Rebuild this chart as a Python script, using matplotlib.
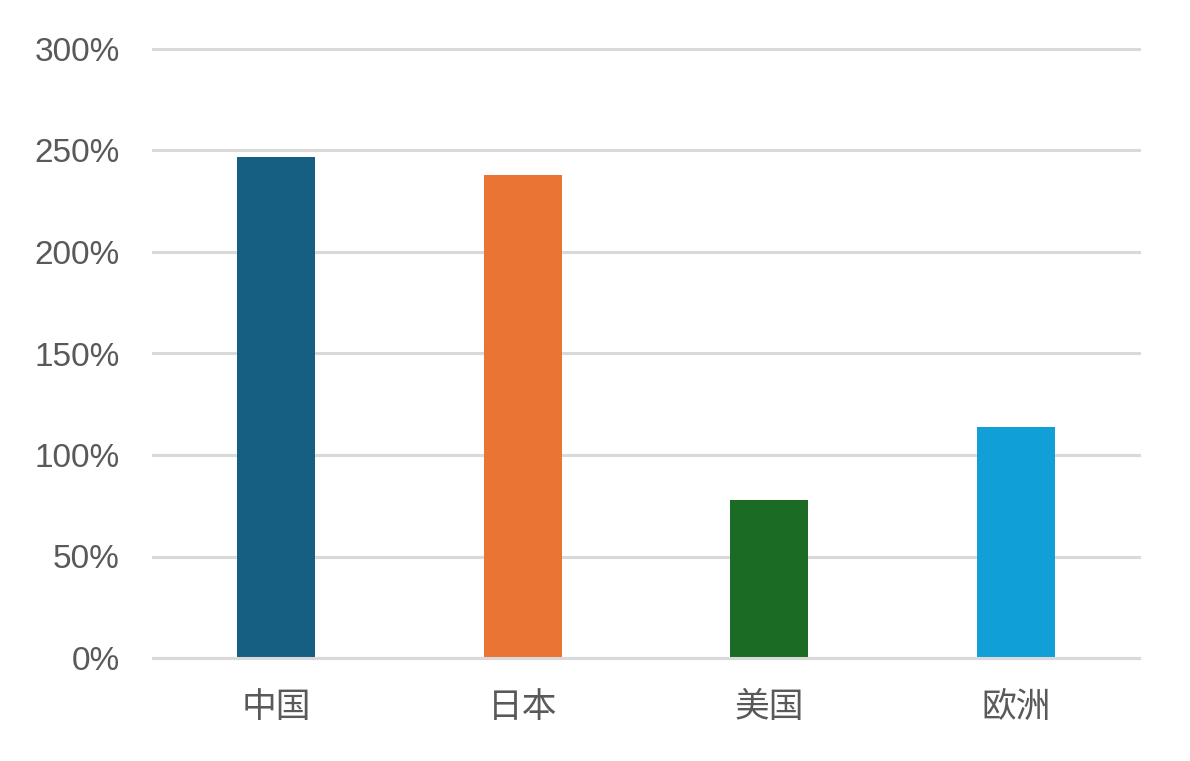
import matplotlib
matplotlib.use("Agg")
import matplotlib.pyplot as plt
from matplotlib.ticker import FuncFormatter

categories = ["中国", "日本", "美国", "欧洲"]
values = [247, 238, 78, 114]
colors = ["#175F82", "#E97434", "#1B6B24", "#119FD7"]
yticks = [0, 50, 100, 150, 200, 250, 300]

plt.rcParams['font.family'] = ['Liberation Sans', 'Noto Sans CJK SC', 'DejaVu Sans']

fig = plt.figure(figsize=(11.9, 7.61), dpi=100)
ax = fig.add_axes([153/1190, 1-658/761, (1139-153)/1190, (658-49)/761])

x = range(len(categories))
ax.bar(x, values, width=0.316, color=colors, zorder=3)

ax.set_xlim(-0.5, len(categories) - 0.5)
ax.set_ylim(0, 300)
ax.set_yticks(yticks)
ax.yaxis.set_major_formatter(FuncFormatter(lambda v, p: f"{int(v)}%"))
ax.set_xticks(list(x))
ax.set_xticklabels(categories, family=['Noto Sans CJK SC', 'DejaVu Sans'],
                   fontsize=25)

ax.grid(axis='y', color='#D9D9D9', linewidth=2.2, zorder=0)
for gl in ax.get_ygridlines():
    gl.set_clip_on(False)
ax.axhline(0, color='#D9D9D9', linewidth=2.2, zorder=4, clip_on=False)
ax.set_axisbelow(True)
for s in ax.spines.values():
    s.set_visible(False)
ax.tick_params(axis='both', length=0, labelcolor='#595959')
ax.tick_params(axis='y', pad=24, labelsize=24)
ax.tick_params(axis='x', pad=23)

fig.savefig("out.png", dpi=100, facecolor='white')
